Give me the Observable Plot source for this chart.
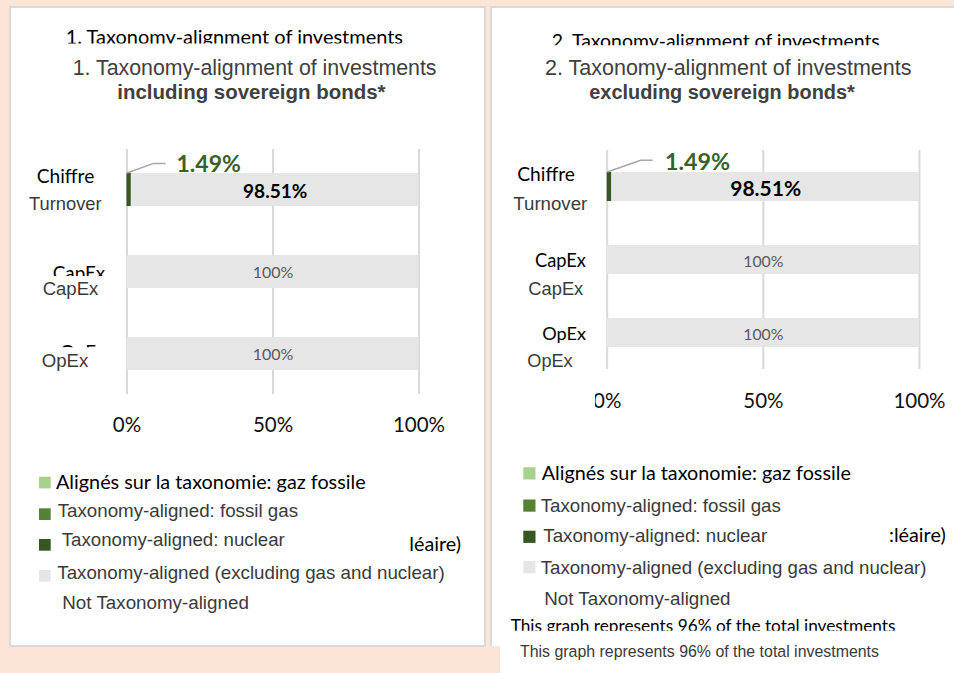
<!DOCTYPE html>
<html><head><meta charset="utf-8">
<script src="https://cdn.jsdelivr.net/npm/d3@7"></script>
<script src="https://cdn.jsdelivr.net/npm/@observablehq/plot@0.6"></script>
<style>
html,body{margin:0;padding:0;background:#fbe5d6;}
#page{position:relative;width:954px;height:673px;overflow:hidden;background:#fbe5d6;}
</style></head><body><div id="page"></div>
<script>
// ---------- DATA ----------
const categories = ["Turnover", "CapEx", "OpEx"];
const categoriesFr = ["Chiffre", "CapEx", "OpEx"];
const series = ["Taxonomy-aligned: fossil gas", "Taxonomy-aligned: nuclear", "Taxonomy-aligned (excluding gas and nuclear)", "Not Taxonomy-aligned"];
const seriesFr = ["Alignés sur la taxonomie: gaz fossile", "Alignés sur la taxonomie: nucléaire", "Alignés sur la taxonomie (hors gaz et nucléaire)", "Non alignés sur la taxonomie"];
const seriesColors = ["#a9d18e", "#548235", "#375623", "#e7e6e6"];
// chart 1: including sovereign bonds (values in %, series order)
const turnover1 = [0, 0, 1.49, 98.51];
const capex1 = [0, 0, 0, 100];
const opex1 = [0, 0, 0, 100];
// chart 2: excluding sovereign bonds
const turnover2 = [0, 0, 1.49, 98.51];
const capex2 = [0, 0, 0, 100];
const opex2 = [0, 0, 0, 100];
const xTicks = [0, 50, 100];
const titles = ["1. Taxonomy-alignment of investments", "2. Taxonomy-alignment of investments"];
const subtitles = ["including sovereign bonds*", "excluding sovereign bonds*"];
const footnote = "This graph represents 96% of the total investments";
// visible remnants of the partly hidden French legend line
const frFragmentL = "léaire)";
const frFragmentR = ":léaire)";

// ---------- PAGE ----------
const page = document.getElementById("page");
function div(style) { const d = document.createElement("div"); Object.assign(d.style, {position: "absolute", boxSizing: "border-box"}, style); page.appendChild(d); return d; }
div({left: "9px", top: "6px", width: "477px", height: "641px", background: "#fff", border: "2px solid #d9d9d9"});
div({left: "490px", top: "6px", width: "470px", height: "640px", background: "#fff", borderLeft: "2px solid #d9d9d9", borderTop: "2px solid #d9d9d9"});
div({left: "500px", top: "640px", width: "454px", height: "33px", background: "#fff"});

const pct = v => `${v}%`;
function buildData(rows) {
  const out = [];
  categories.forEach((c, i) => series.forEach((s, j) => out.push({cat: c, series: s, value: rows[i][j]})));
  return out;
}

function chart(rows, L) {
  const data = buildData(rows);
  const isAligned = d => d.series !== series[3] && d.value > 0;
  const stack = o => Plot.stackX({x: "value", y: "cat", z: "series", ...o});
  const leader = (index, scales) => {
    const g = d3.create("svg:g").attr("fill", "none").attr("stroke", "#a6a6a6").attr("stroke-width", 1.5);
    categories.forEach(c => {
      let acc = 0;
      data.filter(d => d.cat === c).forEach(d => {
        if (isAligned(d)) {
          const x0 = scales.x(acc), y0 = scales.y(c);
          g.append("polyline").attr("points", L.lead.map(([dx, dy]) => `${x0 + dx},${y0 + dy}`).join(" "));
        }
        acc += d.value;
      });
    });
    return g.node();
  };
  const svg = Plot.plot({
    width: L.w, height: L.h,
    marginLeft: L.ml, marginRight: L.mr, marginTop: L.mt, marginBottom: L.mb,
    style: {background: "transparent", fontFamily: "Lato, sans-serif", overflow: "visible"},
    x: {domain: [0, 100], axis: null},
    y: {domain: categories, paddingInner: L.pi, paddingOuter: L.po, axis: null},
    color: {domain: series, range: seriesColors},
    marks: [
      Plot.ruleX(xTicks, {stroke: "#d9d9d9", strokeWidth: 2}),
      Plot.barX(data, {x: "value", y: "cat", fill: "series"}),
      leader,
      Plot.text(data, stack({text: d => isAligned(d) ? pct(d.value) : null, fill: "#3b6128", fontWeight: "bold", fontSize: L.gSize, dx: L.gdx, dy: L.gdy})),
      Plot.text(data, stack({text: d => d.series === series[3] && d.value < 100 ? pct(d.value) : null, fill: "#000", fontWeight: "bold", fontSize: L.bSize, dy: L.bdy})),
      Plot.text(data, stack({text: d => d.series === series[3] && d.value === 100 ? pct(d.value) : null, fill: "#595959", fontSize: L.hSize, dy: L.hdy})),
      Plot.text(xTicks, {x: d => d, text: pct, frameAnchor: "bottom", lineAnchor: "middle", dy: L.tickDy, fontSize: L.tickFs, fill: "#111"})
    ]
  });
  Object.assign(svg.style, {position: "absolute", left: L.left + "px", top: "0px"});
  page.appendChild(svg);
}

chart([turnover1, capex1, opex1], {
  left: 0, w: 490, h: 440, ml: 126.5, mr: 71.5, mt: 149, mb: 46, pi: 0.6, po: 0.29,
  tickDy: 31, tickFs: 20.5, gSize: 23, gdx: 79.5, gdy: -25, bSize: 19, bdy: 1.5, hSize: 16, hdy: 1,
  lead: [[0.5, 0], [27, -9.6], [39, -9.6]]
});
chart([turnover2, capex2, opex2], {
  left: 490, w: 464, h: 420, ml: 116.7, mr: 35, mt: 150, mb: 51, pi: 0.6, po: 0.3,
  tickDy: 32, tickFs: 20.5, gSize: 23.3, gdx: 88, gdy: -24.5, bSize: 21, bdy: 2, hSize: 15.8, hdy: 2,
  lead: [[0.5, 0], [34, -11.7], [46, -11.7]]
});

// ---------- OVERLAY TEXT (titles, category labels, legend) ----------
const ov = d3.create("svg").attr("width", 954).attr("height", 673)
  .style("position", "absolute").style("left", "0px").style("top", "0px");
page.appendChild(ov.node());
const defs = ov.append("defs");
const FAM = {C: "Lato, 'Open Sans', sans-serif", A: "'Liberation Sans', Arial, sans-serif"};
const sizes = {};
let clipId = 0;
function put(g, s) {
  const t = g.append("text").text(s.t)
    .attr("font-family", FAM[s.f]).attr("font-weight", s.b ? "bold" : "normal")
    .attr("fill", s.c || (s.f === "C" ? "#000" : "#3a3a3a"))
    .attr("text-anchor", s.a === "end" ? "end" : "start")
    .attr("x", s.x).attr("font-size", 20);
  let size = s.ref ? sizes[s.ref] : s.s;
  if (!size) size = 20 * s.w / t.node().getComputedTextLength();
  if (s.id) sizes[s.id] = size;
  t.attr("font-size", size).attr("y", s.y + 0.36 * size);
  if (s.clip != null) {
    const id = "clip" + (clipId++);
    defs.append("clipPath").attr("id", id).append("rect").attr("x", 0).attr("y", 0).attr("width", 954).attr("height", s.clip);
    t.attr("clip-path", `url(#${id})`);
  }
}

const lowerLayer = [
  {t: titles[0], f: "C", x: 65.7, y: 37.2, w: 337.6, clip: 43.5},
  {t: categoriesFr[0], f: "C", x: 36.7, y: 176.2, w: 57.6},
  {t: categoriesFr[1], f: "C", x: 52.7, y: 273.2, w: 52.6, id: "capL", clip: 276},
  {t: categoriesFr[2], f: "C", x: 105.5, a: "end", y: 352, ref: "capL", clip: 347.3},
  {t: seriesFr[0], f: "C", x: 56, y: 482, w: 309.7, id: "frL"},
  {t: frFragmentL, f: "C", x: 409.3, y: 543.5, ref: "frL"},
  {t: titles[1], f: "C", x: 551.7, y: 40.7, w: 328.3, clip: 45.3},
  {t: categoriesFr[0], f: "C", x: 517.3, y: 173.7, w: 57.7},
  {t: categoriesFr[1], f: "C", x: 535, y: 260.5, w: 51},
  {t: categoriesFr[2], f: "C", x: 542.3, y: 333, w: 43.7},
  {t: seriesFr[0], f: "C", x: 541.7, y: 473.3, w: 309.3, id: "frR"},
  {t: frFragmentR, f: "C", x: 889, y: 534.5, ref: "frR"},
  {t: footnote, f: "C", x: 510.7, y: 626, w: 385, clip: 630.7}
];
const masks = [
  [586, 390, 595, 412]
];
const upperLayer = [
  {t: titles[0], f: "A", x: 72.7, y: 67.5, w: 364, c: "#404040"},
  {t: subtitles[0], f: "A", b: true, x: 117.3, y: 91.3, w: 268.4, c: "#404040"},
  {t: categories[0], f: "A", x: 29, y: 203.5, w: 72.7},
  {t: categories[1], f: "A", x: 42.7, y: 288, w: 55.6},
  {t: categories[2], f: "A", x: 41.7, y: 360, w: 46.6},
  {t: series[0], f: "A", x: 57.7, y: 510.3, w: 240.6},
  {t: series[1], f: "A", x: 61.7, y: 539.7, w: 223.3},
  {t: series[2], f: "A", x: 57.3, y: 572, w: 387.7},
  {t: series[3], f: "A", x: 62.3, y: 602.2, w: 186.7},
  {t: titles[1], f: "A", x: 545, y: 67.5, w: 366.7, c: "#404040"},
  {t: subtitles[1], f: "A", b: true, x: 589.3, y: 92.3, w: 265.7, c: "#404040"},
  {t: categories[0], f: "A", x: 513.3, y: 203.7, w: 74},
  {t: categories[1], f: "A", x: 528.3, y: 288.3, w: 55},
  {t: categories[2], f: "A", x: 527.3, y: 360.3, w: 45.4},
  {t: series[0], f: "A", x: 540.7, y: 505.3, w: 240.3},
  {t: series[1], f: "A", x: 543.3, y: 535.7, w: 224},
  {t: series[2], f: "A", x: 540.7, y: 567.5, w: 386},
  {t: series[3], f: "A", x: 544.3, y: 598.3, w: 186.4},
  {t: footnote, f: "A", x: 520, y: 650.8, w: 359.3}
];
const swatches = [
  {x: 39, ys: [476.7, 508.3, 539, 570], size: 11.7},
  {x: 523.3, ys: [467.3, 499.5, 530.7, 561], size: 12.2}
];

const g0 = ov.append("g");
lowerLayer.forEach(s => put(g0, s));
const gm = ov.append("g").attr("fill", "#fff");
masks.forEach(([x0, y0, x1, y1]) => gm.append("rect").attr("x", x0).attr("y", y0).attr("width", x1 - x0).attr("height", y1 - y0));
const gs = ov.append("g");
swatches.forEach(sw => sw.ys.forEach((y, i) => gs.append("rect").attr("x", sw.x).attr("y", y).attr("width", sw.size).attr("height", sw.size).attr("fill", seriesColors[i])));
const g1 = ov.append("g");
upperLayer.forEach(s => put(g1, s));
</script>
</body></html>
